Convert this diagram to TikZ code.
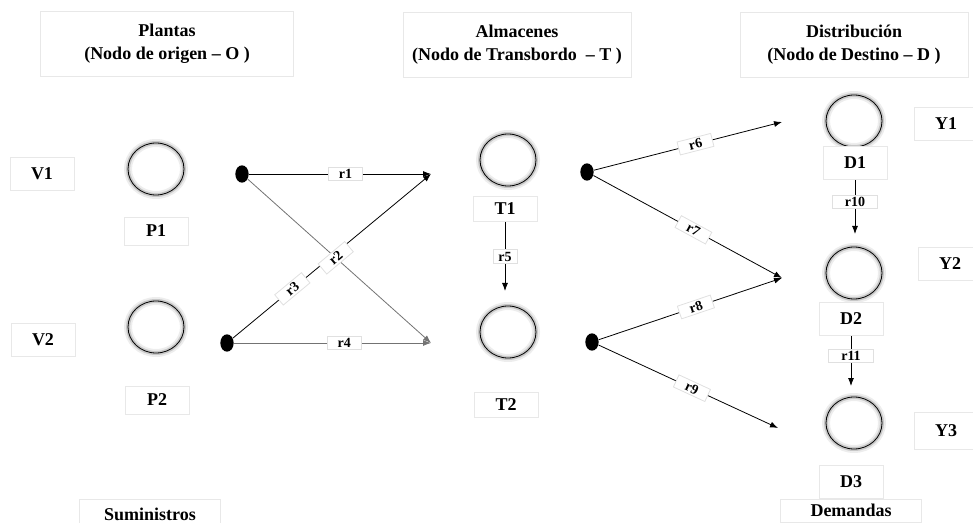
\documentclass[tikz,border=0pt]{standalone}
\usepackage{fontspec}
\setmainfont{Liberation Serif}
\usetikzlibrary{positioning}
\usetikzlibrary{arrows.meta}
\usetikzlibrary{shapes.geometric}
\tikzset{>={Latex[width=4.5pt,length=6pt]}}
\tikzset{
    caja/.style={draw=black!9, fill=white, font=\fontsize{13.5}{17}\selectfont\bfseries, align=center, inner sep=1pt, minimum width=48pt, minimum height=21pt},
    titulo/.style={caja, minimum width=171pt, minimum height=49pt},
    nodo/.style={draw=black, ellipse, minimum width=42pt, minimum height=39pt, inner sep=0pt,
        preaction={draw=black!7, line width=6pt}, preaction={draw=black!22, line width=3pt}},
    punto/.style={ellipse, fill=black, minimum width=10pt, minimum height=13pt, inner sep=0pt},
    ruta/.style={fill=white, draw=black!12, font=\fontsize{10.5}{11}\selectfont\bfseries, inner sep=0.5pt, minimum width=26pt, minimum height=10pt},
}

\begin{document}
\begin{tikzpicture}[x=0.75pt, y=-0.75pt, line width=0.6pt]
    \useasboundingbox (0,0) rectangle (973,523);
    % encabezados
    \node (tP) [titulo, minimum width=190pt] at (167,44) {Plantas\\(Nodo de origen – O )};
    \node (tT) [titulo] at (517,45) {Almacenes\\(Nodo de Transbordo ~– T )};
    \node (tD) [titulo] at (854,45) {Distribución\\(Nodo de Destino – D )};

    % plantas
    \node (P1) [nodo] at (156,169) {};
    \node (P2) [nodo] at (156,327) {};
    \node (P1l) [caja] at (156,231) {P1};
    \node (P2l) [caja] at (157,400) {P2};
    \node (V1) [caja, minimum height=25pt] at (42,174) {V1};
    \node (V2) [caja, minimum height=25pt] at (43,340) {V2};
    \node (sum) [caja, minimum width=106pt, minimum height=22pt] at (150,514) {Suministros};

    % almacenes
    \node (T1) [nodo] at (508,160) {};
    \node (T2) [nodo] at (508,332) {};
    \node (T1l) [caja, minimum height=19pt] at (505,209) {T1};
    \node (T2l) [caja, minimum height=19pt] at (506,405) {T2};

    % distribucion
    \node (D1) [nodo] at (854,121) {};
    \node (D2) [nodo] at (854,273) {};
    \node (D3) [nodo] at (854,423) {};
    \node (D1l) [caja, minimum height=25pt] at (855,163) {D1};
    \node (D2l) [caja, minimum height=25pt] at (851,319) {D2};
    \node (D3l) [caja, minimum height=25pt] at (851,482) {D3};
    \node (dem) [caja, minimum width=106pt, minimum height=17pt, below=0pt of D3l] {Demandas};
    \node (Y1) [caja, minimum height=25pt] at (946,124) {Y1};
    \node (Y2) [caja, minimum height=25pt] at (950,264) {Y2};
    \node (Y3) [caja, minimum height=28pt] at (946,431) {Y3};

    % salidas
    \node (o1) [punto] at (242,174) {};
    \node (o2) [punto] at (227,343) {};
    \node (o3) [punto] at (587,172) {};
    \node (o4) [punto] at (592,342) {};

    \coordinate (aT1) at (431,174);
    \coordinate (aT2) at (431,343);
    \coordinate (aT2b) at (505,291);
    \coordinate (aD1) at (782,122);
    \coordinate (aD2) at (782,278);
    \coordinate (aD3) at (778,428);
    \coordinate (aD2b) at (855,234);
    \coordinate (aD3b) at (851,386);

    \path [draw, ->] (o1) -- node [ruta, pos=0.53] {r1} (aT1);
    \path [draw, ->] (o2) -- node [ruta, sloped, pos=0.3] {r3} (aT1);
    \path [draw=black!55, ->] (o1) -- node [ruta, rotate=40, pos=0.48] {r2} (aT2);
    \path [draw=black!55, ->] (o2) -- node [ruta, pos=0.56] {r4} (aT2);
    \path [draw, ->] (T1l) -- node [ruta, minimum width=18pt] {r5} (aT2b);
    \path [draw, ->] (o3) -- node [ruta, sloped, pos=0.54] {r6} (aD1);
    \path [draw, ->] (o3) -- node [ruta, sloped, pos=0.53] {r7} (aD2);
    \path [draw, ->] (o4) -- node [ruta, sloped, pos=0.53] {r8} (aD2);
    \path [draw, ->] (o4) -- node [ruta, sloped, pos=0.52] {r9} (aD3);
    \path [draw, ->] (D1l) -- node [ruta, minimum width=34pt, pos=0.4] {r10} (aD2b);
    \path [draw, ->] (D2l) -- node [ruta, minimum width=34pt, pos=0.4] {r11} (aD3b);
\end{tikzpicture}
\end{document}
